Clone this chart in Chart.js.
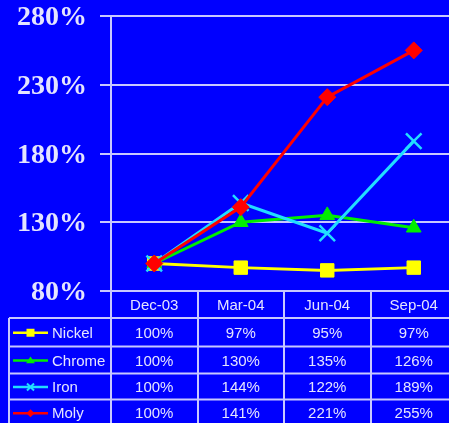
<!DOCTYPE html>
<html>
<head>
<meta charset="utf-8">
<script src="https://cdn.jsdelivr.net/npm/chart.js@4.4.0/dist/chart.umd.min.js"></script>
<style>
  html, body { margin: 0; padding: 0; background: #0000ff; overflow: hidden; }
  #wrap { width: 457px; height: 423px; }
</style>
</head>
<body>
<div id="wrap"><canvas id="myChart" width="457" height="423"></canvas></div>
<script>
// price index per quarter, Dec-03 = 100%
const categories = ['Dec-03', 'Mar-04', 'Jun-04', 'Sep-04'];
const nickel = [100, 97, 95, 97];
const chrome = [100, 130, 135, 126];
const iron = [100, 144, 122, 189];
const moly = [100, 141, 221, 255];
const yTicks = [80, 130, 180, 230, 280];

const seriesNames = ['Nickel', 'Chrome', 'Iron', 'Moly'];
const seriesValues = [nickel, chrome, iron, moly];
const seriesColors = ['#ffff00', '#00ee00', '#22ddff', '#ff0000'];
const seriesPoints = ['rect', 'triangle', 'crossRot', 'rectRot'];
const seriesRadius = [9.5, 8.5, 11, 8.5];

const lineColor = '#c8c8ff';
const textColor = '#e4e4ff';

// table under the plot: header row + one row per series
const rowLines = [318, 346.5, 373.5, 399.5, 426];
const tableLeft = 9;

function drawMarker(ctx, type, x, y, r, color) {
    ctx.save();
    ctx.fillStyle = color;
    ctx.strokeStyle = color;
    ctx.lineWidth = 2;
    ctx.beginPath();
    if (type === 'rect') {
        ctx.rect(x - r, y - r, 2 * r, 2 * r);
        ctx.fill();
    } else if (type === 'triangle') {
        ctx.moveTo(x - r * 1.1, y + r * 0.7);
        ctx.lineTo(x, y - r);
        ctx.lineTo(x + r * 1.1, y + r * 0.7);
        ctx.closePath();
        ctx.fill();
    } else if (type === 'rectRot') {
        ctx.moveTo(x - r, y);
        ctx.lineTo(x, y - r);
        ctx.lineTo(x + r, y);
        ctx.lineTo(x, y + r);
        ctx.closePath();
        ctx.fill();
    } else {
        ctx.moveTo(x - r, y - r);
        ctx.lineTo(x + r, y + r);
        ctx.moveTo(x - r, y + r);
        ctx.lineTo(x + r, y - r);
        ctx.stroke();
    }
    ctx.restore();
}

const dataTable = {
    id: 'dataTable',
    afterDraw(chart) {
        const ctx = chart.ctx;
        const area = chart.chartArea;
        const xs = chart.scales.x;
        const half = (xs.getPixelForValue(1) - xs.getPixelForValue(0)) / 2;
        const bottom = chart.height + 5;

        ctx.save();
        ctx.strokeStyle = lineColor;
        ctx.lineWidth = 2;
        ctx.beginPath();
        // column borders
        for (let i = 0; i <= categories.length; i++) {
            const cx = Math.round(xs.getPixelForValue(i) - half);
            ctx.moveTo(cx, area.bottom);
            ctx.lineTo(cx, bottom);
        }
        ctx.moveTo(tableLeft, rowLines[0]);
        ctx.lineTo(tableLeft, bottom);
        // row borders
        rowLines.forEach(y => {
            ctx.moveTo(tableLeft, y);
            ctx.lineTo(area.right + 2, y);
        });
        ctx.stroke();

        ctx.fillStyle = textColor;
        ctx.font = '15px "Liberation Sans", Arial, sans-serif';
        ctx.textAlign = 'center';
        ctx.textBaseline = 'middle';
        categories.forEach((c, i) => {
            ctx.fillText(c, xs.getPixelForValue(i), (area.bottom + rowLines[0]) / 2 + 1.5);
        });
        seriesValues.forEach((vals, r) => {
            const cy = (rowLines[r] + rowLines[r + 1]) / 2 + 1.5;
            vals.forEach((v, i) => {
                ctx.fillText(v + '%', xs.getPixelForValue(i), cy);
            });
            // legend key
            const ly = cy - 1;
            ctx.save();
            ctx.strokeStyle = seriesColors[r];
            ctx.lineWidth = 2.5;
            ctx.beginPath();
            ctx.moveTo(13, ly);
            ctx.lineTo(48, ly);
            ctx.stroke();
            ctx.restore();
            drawMarker(ctx, seriesPoints[r], 30.5, ly, seriesPoints[r] === 'crossRot' ? 3.5 : 4, seriesColors[r]);
            ctx.textAlign = 'left';
            ctx.fillText(seriesNames[r], 52, cy);
            ctx.textAlign = 'center';
        });
        ctx.restore();
    }
};

const myChartRef = document.getElementById('myChart').getContext('2d');

new Chart(myChartRef, {
    type: 'line',
    data: {
        labels: categories,
        datasets: seriesNames.map((name, i) => ({
            label: name,
            data: seriesValues[i],
            borderColor: seriesColors[i],
            backgroundColor: seriesColors[i],
            borderWidth: 3,
            pointStyle: seriesPoints[i],
            pointRadius: seriesRadius[i],
            pointBorderWidth: i === 2 ? 2.5 : 1,
            pointBorderColor: seriesColors[i],
            pointBackgroundColor: seriesColors[i],
            tension: 0,
            order: 4 - i
        }))
    },
    options: {
        responsive: false,
        animation: false,
        events: [],
        layout: { autoPadding: false, padding: { top: 0, right: 0, bottom: 132, left: 0 } },
        plugins: {
            legend: { display: false },
            tooltip: { enabled: false }
        },
        scales: {
            x: {
                display: false,
                offset: true
            },
            y: {
                min: 80,
                max: 280,
                afterFit(scale) {
                    scale.width = 111;
                    scale.paddingTop = 16;
                    scale.paddingBottom = 0;
                },
                afterBuildTicks(scale) { scale.ticks = yTicks.map(v => ({ value: v })); },
                border: { display: true, color: lineColor, width: 2 },
                grid: {
                    color: lineColor,
                    lineWidth: 2,
                    tickLength: 11,
                    drawTicks: true
                },
                ticks: {
                    padding: 13,
                    labelOffset: 2,
                    color: textColor,
                    font: { family: '"Liberation Serif", "Times New Roman", serif', size: 28, weight: 'bold' },
                    callback: v => v + '%'
                }
            }
        }
    },
    plugins: [dataTable]
});
</script>
</body>
</html>
